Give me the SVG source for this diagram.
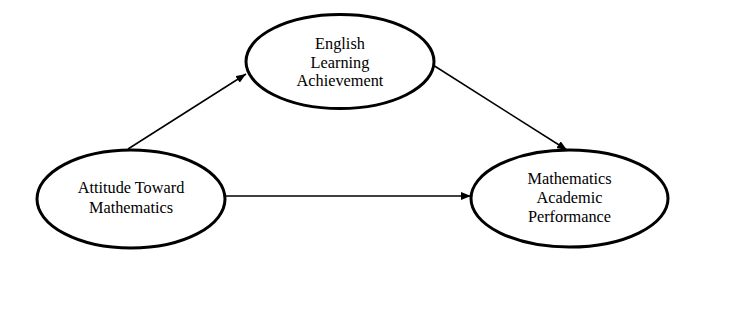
<svg xmlns="http://www.w3.org/2000/svg" width="751" height="325" viewBox="0 0 751 325">
<style>
.node ellipse{fill:#fff;stroke:#000;stroke-width:3}
.node text{font-family:"Liberation Serif","Times New Roman",serif;font-size:16.3px;fill:#000;text-anchor:middle}
.edge{stroke:#000;stroke-width:1.5;fill:none;marker-end:url(#arr)}
</style>
<defs>
<marker id="arr" viewBox="0 0 10 8" refX="10" refY="4" markerWidth="10" markerHeight="8" markerUnits="userSpaceOnUse" orient="auto">
<path d="M0,0 L10,4 L0,8 Z" fill="#000"/>
</marker>
</defs>
<rect width="751" height="325" fill="#fff"/>
<g id="connectors">
<line class="edge" x1="128" y1="149" x2="246" y2="74"/>
<line class="edge" x1="433" y1="65" x2="567" y2="150"/>
<line class="edge" x1="225" y1="196" x2="471" y2="196"/>
</g>
<g id="english" class="node">
<ellipse cx="340" cy="61.5" rx="94" ry="47"/>
<text x="340" y="49">English</text>
<text x="340" y="67.5">Learning</text>
<text x="340" y="86">Achievement</text>
</g>
<g id="attitude" class="node">
<ellipse cx="131" cy="199" rx="94" ry="49"/>
<text x="131" y="193">Attitude Toward</text>
<text x="131" y="213">Mathematics</text>
</g>
<g id="math" class="node">
<ellipse cx="569.5" cy="198.5" rx="98.5" ry="48.5"/>
<text x="569.5" y="184">Mathematics</text>
<text x="569.5" y="203">Academic</text>
<text x="569.5" y="222">Performance</text>
</g>
</svg>
